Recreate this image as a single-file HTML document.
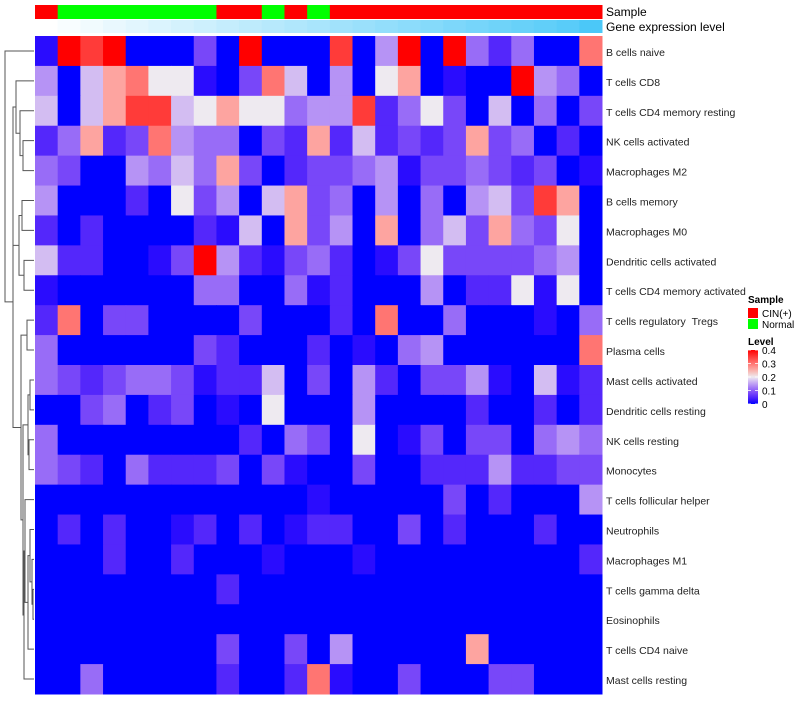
<!DOCTYPE html>
<html><head><meta charset="utf-8"><style>
body{margin:0;background:#fff;width:800px;height:700px;overflow:hidden;font-family:"Liberation Sans",sans-serif}
svg text{font-family:"Liberation Sans",sans-serif}
</style></head><body>
<svg id="chart" width="800" height="700" xmlns="http://www.w3.org/2000/svg"></svg>
<script>
const rowLabels=["B cells naive","T cells CD8","T cells CD4 memory resting","NK cells activated","Macrophages M2","B cells memory","Macrophages M0","Dendritic cells activated","T cells CD4 memory activated","T cells regulatory\u00a0\u00a0Tregs","Plasma cells","Mast cells activated","Dendritic cells resting","NK cells resting","Monocytes","T cells follicular helper","Neutrophils","Macrophages M1","T cells gamma delta","Eosinophils","T cells CD4 naive","Mast cells resting"];
const sampleGroup=["CIN(+)","Normal","Normal","Normal","Normal","Normal","Normal","Normal","CIN(+)","CIN(+)","Normal","CIN(+)","Normal","CIN(+)","CIN(+)","CIN(+)","CIN(+)","CIN(+)","CIN(+)","CIN(+)","CIN(+)","CIN(+)","CIN(+)","CIN(+)","CIN(+)"];
const geneLevel=[0,0.04,0.08,0.12,0.16,0.2,0.24,0.28,0.32,0.36,0.4,0.44,0.48,0.52,0.56,0.6,0.64,0.68,0.72,0.76,0.8,0.84,0.88,0.92,1];
const levelTicks=[0,0.1,0.2,0.3,0.4];
const r0=[0.02,0.4,0.35,0.4,0,0,0,0.08,0,0.4,0,0,0,0.35,0,0.14,0.4,0,0.4,0.11,0.05,0.11,0,0,0.3];
const r1=[0.14,0,0.17,0.26,0.3,0.2,0.2,0.02,0,0.08,0.3,0.17,0,0.14,0,0.2,0.26,0,0.02,0,0,0.4,0.14,0.11,0];
const r2=[0.17,0,0.17,0.26,0.35,0.35,0.17,0.2,0.26,0.2,0.2,0.11,0.14,0.14,0.35,0.05,0.11,0.2,0.08,0,0.17,0,0.11,0,0.08];
const r3=[0.05,0.11,0.26,0.05,0.08,0.3,0.14,0.11,0.11,0,0.08,0.05,0.26,0.05,0.17,0.05,0.08,0.05,0.08,0.26,0.08,0.11,0,0.05,0];
const r4=[0.11,0.08,0,0,0.14,0.11,0.17,0.11,0.26,0.08,0,0.05,0.08,0.08,0.11,0.14,0.02,0.08,0.08,0.11,0.08,0.05,0.08,0,0.02];
const r5=[0.14,0,0,0,0.05,0,0.2,0.08,0.14,0,0.17,0.26,0.08,0.11,0,0.14,0,0.11,0,0.14,0.17,0.08,0.35,0.26,0];
const r6=[0.05,0,0.05,0,0,0,0,0.05,0.02,0.17,0,0.26,0.08,0.14,0,0.26,0,0.11,0.17,0.08,0.26,0.11,0.08,0.2,0];
const r7=[0.17,0.05,0.05,0,0,0.02,0.08,0.4,0.14,0.05,0.02,0.08,0.11,0.05,0,0.02,0.08,0.2,0.08,0.08,0.08,0.08,0.11,0.14,0];
const r8=[0.02,0,0,0,0,0,0,0.11,0.11,0,0,0.11,0.02,0.05,0,0,0,0.14,0,0.05,0.05,0.2,0.02,0.2,0];
const r9=[0.05,0.3,0,0.08,0.08,0,0,0,0,0.08,0,0,0,0.05,0,0.3,0,0,0.11,0,0,0,0.02,0,0.11];
const r10=[0.11,0,0,0,0,0,0,0.08,0.05,0,0,0,0.05,0,0.02,0,0.11,0.14,0,0,0,0,0,0,0.3];
const r11=[0.11,0.08,0.05,0.08,0.11,0.11,0.08,0.02,0.05,0.05,0.17,0,0.08,0,0.14,0.05,0,0.08,0.08,0.14,0.02,0,0.17,0.02,0.05];
const r12=[0,0,0.08,0.11,0,0.05,0.08,0,0.02,0,0.2,0,0,0,0.14,0,0,0,0,0.05,0,0,0.05,0,0.05];
const r13=[0.11,0,0,0,0,0,0,0,0,0.05,0,0.11,0.08,0,0.2,0,0.02,0.08,0,0.08,0.08,0,0.11,0.14,0.11];
const r14=[0.11,0.08,0.05,0,0.11,0.05,0.05,0.05,0.08,0,0.08,0.02,0,0,0.08,0,0,0.05,0.05,0.05,0.14,0.05,0.05,0.08,0.08];
const r15=[0,0,0,0,0,0,0,0,0,0,0,0,0.02,0,0,0,0,0,0.08,0,0.05,0,0,0,0.14];
const r16=[0,0.05,0,0.05,0,0,0.02,0.05,0,0.05,0,0.02,0.05,0.05,0,0,0.08,0,0.05,0,0,0,0.05,0,0];
const r17=[0,0,0,0.05,0,0,0.05,0,0,0,0.02,0,0,0,0.02,0,0,0,0,0,0,0,0,0,0.05];
const r18=[0,0,0,0,0,0,0,0,0.05,0,0,0,0,0,0,0,0,0,0,0,0,0,0,0,0];
const r19=[0,0,0,0,0,0,0,0,0,0,0,0,0,0,0,0,0,0,0,0,0,0,0,0,0];
const r20=[0,0,0,0,0,0,0,0,0.08,0,0,0.08,0,0.14,0,0,0,0,0,0.26,0,0,0,0,0];
const r21=[0,0,0.11,0,0,0,0,0,0.05,0,0,0.05,0.3,0.02,0,0,0.08,0,0,0,0.08,0.08,0,0,0];
const values=[r0,r1,r2,r3,r4,r5,r6,r7,r8,r9,r10,r11,r12,r13,r14,r15,r16,r17,r18,r19,r20,r21];

const NS="http://www.w3.org/2000/svg";
const svg=document.getElementById('chart');
function mk(tag,attrs,parent){const e=document.createElementNS(NS,tag);for(const k in attrs)e.setAttribute(k,attrs[k]);(parent||svg).appendChild(e);return e;}
const X0=35,X1=602,Y0=36,Y1=694;
const nCol=values[0].length,nRow=values.length;
const cw=(X1-X0)/nCol,ch=(Y1-Y0)/nRow;
const xPos=j=>X0+j*cw;
const yPos=i=>Y0+i*ch;
function colorFor(v){
  v=Math.max(0,Math.min(0.4,v));
  if(v<=0.2){const t=v/0.2;return `rgb(${Math.round(238*Math.pow(t,0.75))},${Math.round(234*Math.pow(t,1.3))},${Math.round(255-15*t)})`;}
  const s=(v-0.2)/0.2;return `rgb(${Math.round(238+17*Math.min(1,s*3))},${Math.round(234*(1-s))},${Math.round(228*(1-s))})`;
}
const cells=mk('g',{});


for(let i=0;i<nRow;i++)for(let j=0;j<nCol;j++){
  const r=mk('rect',{x:xPos(j),y:yPos(i),width:cw+0.5,height:ch+0.5,fill:colorFor(values[i][j])},cells);
  
  
}
const sampleColors={"CIN(+)":"#ff0000","Normal":"#00ff00"};
for(let j=0;j<nCol;j++){
  const a=mk('rect',{x:xPos(j),y:5,width:cw+0.5,height:14,fill:sampleColors[sampleGroup[j]]});
  
  
  const g=geneLevel[j];
  const b=mk('rect',{x:xPos(j),y:20,width:cw+0.5,height:13,fill:`rgb(${Math.round(255-180*g)},${Math.round(255-55*g)},${Math.round(255-7*g)})`});
  
  
}
let t=mk('text',{x:606,y:16,'font-size':12,fill:'#000'});t.textContent='Sample';

t=mk('text',{x:606,y:31,'font-size':12,fill:'#000'});t.textContent='Gene expression level';

for(let i=0;i<nRow;i++){
  const l=mk('text',{x:606,y:yPos(i)+ch/2+5,'font-size':10.5,fill:'#222'});
  l.textContent=rowLabels[i];
  
  
}
const yc=i=>yPos(i)+ch/2;
const leaf=i=>({leaf:i});
const nd=(h,a,b)=>({h:h,c:[a,b]});
const tree=nd(5,leaf(0),
  nd(13,
    nd(13,nd(16,leaf(1),nd(20,leaf(2),nd(23,leaf(3),leaf(4)))),nd(19,nd(22,leaf(5),leaf(6)),nd(24,leaf(7),leaf(8)))),
    nd(21,nd(27,leaf(9),leaf(10)),
      nd(23,nd(28,nd(30,leaf(11),leaf(12)),nd(29,leaf(13),leaf(14))),
        nd(24,nd(25,leaf(15),nd(28,nd(30,leaf(16),nd(32,leaf(17),nd(33,leaf(18),leaf(19)))),leaf(20))),leaf(21))))));
const dg=mk('g',{stroke:'#555','stroke-width':1,fill:'none'});


function draw(n){
  if(n.leaf!==undefined)return {y:yc(n.leaf),x:34};
  const a=draw(n.c[0]),b=draw(n.c[1]);
  mk('path',{d:`M${a.x},${a.y}H${n.h}V${b.y}H${b.x}`},dg);
  return {y:(a.y+b.y)/2,x:n.h};
}
draw(tree);
const lg=mk('g',{});


t=mk('text',{x:748,y:303,'font-size':10,'font-weight':'bold'},lg);t.textContent='Sample';
[["CIN(+)",313],["Normal",324]].forEach(([k,y])=>{
  const r=mk('rect',{x:748,y:y-5,width:10,height:10,fill:sampleColors[k]},lg);
  
  const tx=mk('text',{x:762,y:y+4,'font-size':10},lg);tx.textContent=k;
  
});
t=mk('text',{x:748,y:345,'font-size':10,'font-weight':'bold'},lg);t.textContent='Level';
const defs=mk('defs',{});
const gr=mk('linearGradient',{id:'lv',x1:0,y1:1,x2:0,y2:0},defs);
for(let k=0;k<=10;k++){mk('stop',{offset:k/10,'stop-color':colorFor(0.04*k)},gr);}
const ly0=350,ly1=404;
mk('rect',{x:748,y:ly0,width:10,height:ly1-ly0,fill:'url(#lv)'},lg);
levelTicks.forEach(v=>{
  const y=ly1-(v/0.4)*(ly1-ly0);
  mk('line',{x1:748,x2:751,y1:y,y2:y,stroke:'#fff','stroke-width':0.8},lg);
  mk('line',{x1:755,x2:758,y1:y,y2:y,stroke:'#fff','stroke-width':0.8},lg);
  const tx=mk('text',{x:762,y:y+4,'font-size':10},lg);tx.textContent=String(v);
  
});
</script>
</body></html>
